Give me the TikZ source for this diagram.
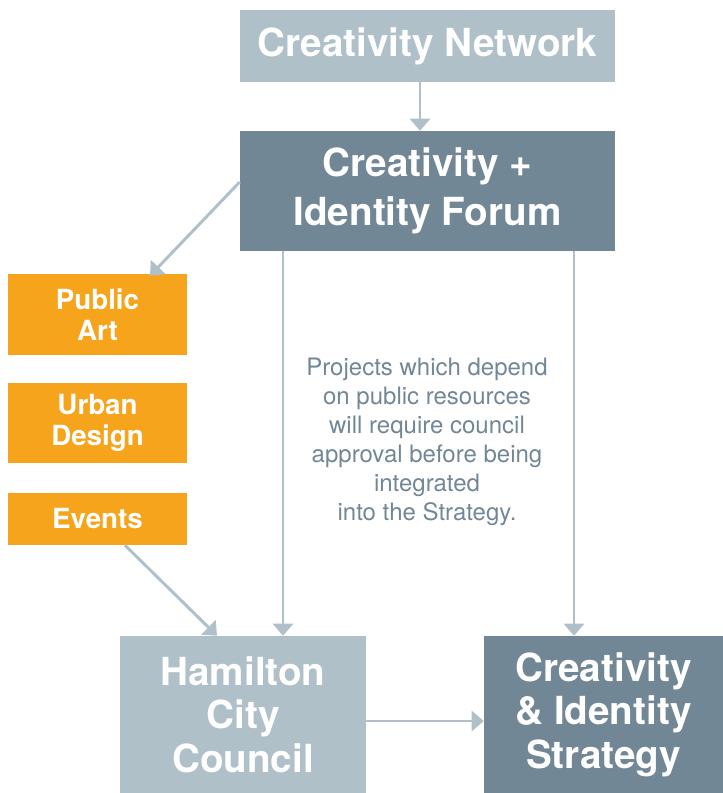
\documentclass[tikz,border=0pt]{standalone}
\usepackage{fontspec}
\setmainfont{TeX Gyre Heros}
\usepackage{xcolor}
\usetikzlibrary{arrows.meta, calc}
\definecolor{mist}{HTML}{AFC0C9}
\definecolor{slate}{HTML}{728795}
\definecolor{amber}{HTML}{F7A41D}
\tikzset{
    >={Triangle[length=9pt, width=15pt]},
    block/.style={draw=none, text=white, align=center, inner sep=0pt, font=\bfseries},
    netbox/.style={block, fill=mist, minimum width=281.25pt, minimum height=54pt,
        font=\bfseries\fontsize{29}{35}\selectfont},
    forumbox/.style={block, fill=slate, minimum width=281.25pt, minimum height=90pt,
        font=\bfseries\fontsize{29}{37}\selectfont},
    areabox/.style={block, fill=amber, minimum width=134.25pt,
        font=\bfseries\fontsize{20.8}{23.5}\selectfont},
    endbox/.style={block, minimum height=117.75pt, font=\bfseries\fontsize{29}{32.6}\selectfont},
    flow/.style={->, mist, line width=2.2pt},
    note/.style={text=slate, align=center, font=\fontsize{18}{21.75}\selectfont},
}
\begin{document}
\begin{tikzpicture}[x=0.75pt, y=-0.75pt]
    \node[netbox] (net) at (427.5,46) {Creativity Network};
    \node[forumbox] (forum) at (427.5,191) {Creativity +\\Identity Forum};
    \node[areabox, minimum height=60.75pt] (art) at (97.5,314.5) {Public\\Art};
    \node[areabox, minimum height=60pt] (urban) at (97.5,423) {Urban\\Design};
    \node[areabox, minimum height=39pt] (events) at (97.5,519) {Events};
    \node[endbox, fill=mist, minimum width=184.5pt] (hcc) at (243,714.5) {Hamilton\\City\\Council};
    \node[endbox, fill=slate, minimum width=179.25pt] (strat) at (603.5,714.5) {Creativity\\\& Identity\\Strategy};
    \node[note] (approval) at (427,442) {Projects which depend\\on public resources\\will require council\\approval before being\\integrated\\into the Strategy.};
    % arrows
    \draw[flow] (net.south -| 420,0) -- (forum.north -| 420,0);
    \draw[flow] ([yshift=6.75pt]forum.west) -- ($(art.north -| 150,0)+(0,2)$);
    \draw[flow] (forum.south -| 283,0) -- (hcc.north -| 283,0);
    \draw[flow] (forum.south -| 574,0) -- (strat.north -| 574,0);
    \draw[flow] (events.south -| 125,0) -- (hcc.north -| 217,0);
    \draw[flow] (hcc.east |- 0,721) -- (strat.west |- 0,721);
    \useasboundingbox (0,0) rectangle (723,793);
\end{tikzpicture}
\end{document}
